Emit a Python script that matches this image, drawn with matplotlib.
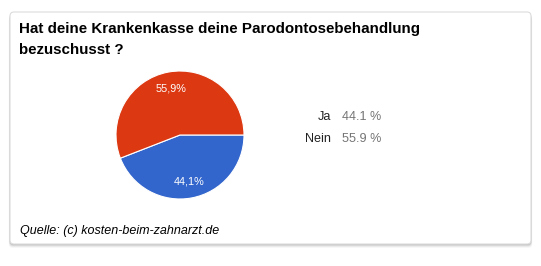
import matplotlib
matplotlib.use("Agg")
import matplotlib.pyplot as plt
from matplotlib.patches import FancyBboxPatch
import numpy as np

categories = ["Ja", "Nein"]
values = [44.1, 55.9]
colors = ["#3366CC", "#DC3912"]
pie_labels = ["44,1%", "55,9%"]
legend_values = ["44.1 %", "55.9 %"]
title_lines = ["Hat deine Krankenkasse deine Parodontosebehandlung", "bezuschusst ?"]
source = "Quelle: (c) kosten-beim-zahnarzt.de"

W, H = 541, 266
plt.rcParams['font.family'] = ['Liberation Sans', 'DejaVu Sans']
fig = plt.figure(figsize=(W / 100, H / 100), dpi=100)
fig.patch.set_facecolor("white")

bg = fig.add_axes([0, 0, 1, 1])
bg.set_xlim(0, W)
bg.set_ylim(H, 0)
bg.axis("off")

# card shadow (soft)
for off, a in [(4, 0.03), (3, 0.05), (2, 0.08), (1, 0.10)]:
    sh = FancyBboxPatch((10 - off * 0.3, 12 + off), 521 + off * 0.6, 232,
                        boxstyle="round,pad=0,rounding_size=4",
                        facecolor="#000000", edgecolor="none", alpha=a, zorder=0)
    bg.add_patch(sh)
card = FancyBboxPatch((10, 12), 521, 232,
                      boxstyle="round,pad=0,rounding_size=4",
                      facecolor="white", edgecolor="#dcdcdc",
                      linewidth=0.8, zorder=1)
bg.add_patch(card)

for i, line in enumerate(title_lines):
    bg.text(19, 28.5 + i * 21.5, line, ha="left", va="center", fontsize=10.9,
            fontweight="bold", color="#000000", zorder=3)

# legend
for i, (c, lv) in enumerate(zip(categories, legend_values)):
    y = 117 + i * 22
    bg.text(331, y, c, ha="right", va="center", fontsize=9.1, color="#222222", zorder=3)
    bg.text(342, y, lv, ha="left", va="center", fontsize=9.1, color="#757575", zorder=3)

bg.text(20, 231, source, ha="left", va="center", fontsize=9.0,
        style="italic", color="#000000", zorder=3)

# pie
cx, cy, r = 180, 135, 64
ax = fig.add_axes([(cx - r) / W, 1 - (cy + r) / H, 2 * r / W, 2 * r / H])
ax.pie(values, colors=colors, startangle=0, counterclock=False,
       wedgeprops=dict(edgecolor="white", linewidth=0.8))
ax.set_aspect("auto")
ax.set_xlim(-1, 1)
ax.set_ylim(-1, 1)
ax.patch.set_alpha(0)

start = 0.0
for v, lab in zip(values, pie_labels):
    mid = start - v / 100 * 360 / 2
    ang = np.deg2rad(mid)
    ax.text(0.74 * np.cos(ang), 0.74 * np.sin(ang), lab, ha="center", va="center",
            color="white", fontsize=7.8)
    start -= v / 100 * 360

fig.savefig("out.png", dpi=100, facecolor="white")
